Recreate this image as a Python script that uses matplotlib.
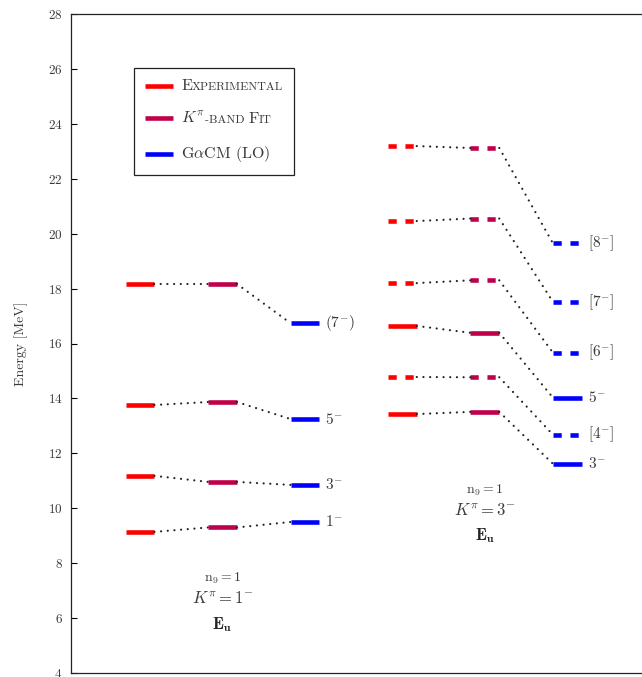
"""Level scheme: experimental vs K^pi-band fit vs GaCM (LO) energies."""

import matplotlib

matplotlib.use("Agg")
import matplotlib.pyplot as plt
from matplotlib.lines import Line2D
from matplotlib.offsetbox import (AnchoredOffsetbox, DrawingArea, HPacker,
                                  TextArea, VPacker)

plt.rcParams["font.family"] = "serif"
plt.rcParams["font.serif"] = ["cmr10", "DejaVu Serif"]
plt.rcParams["mathtext.fontset"] = "cm"
plt.rcParams["axes.formatter.use_mathtext"] = True

# K^pi = 1^- band
left_exp = [9.14, 11.18, 13.76, 18.17]
left_fit = [9.30, 10.96, 13.87, 18.17]
left_lo = [9.50, 10.85, 13.25, 16.74]
left_labels = [r"$1^{-}$", r"$3^{-}$", r"$5^{-}$", r"$(7^{-})$"]
left_tentative = [False, False, False, False]

# K^pi = 3^- band
right_exp = [13.43, 14.78, 16.64, 18.20, 20.46, 23.19]
right_fit = [13.51, 14.77, 16.39, 18.30, 20.55, 23.12]
right_lo = [11.62, 12.68, 14.03, 15.67, 17.52, 19.65]
right_labels = [r"$3^{-}$", r"$[4^{-}]$", r"$5^{-}$", r"$[6^{-}]$",
                r"$[7^{-}]$", r"$[8^{-}]$"]
right_tentative = [False, True, False, True, True, True]

C_EXP = "#ff0000"
C_FIT = "#c0004a"
C_LO = "#0000ff"
TXT = "#3a3a3a"
HW = 0.175  # half width of a level bar

fig = plt.figure(figsize=(6.42, 6.77), dpi=100)
ax = fig.add_axes([71 / 642, 4 / 677, (700 - 71) / 642, (673 - 14) / 677])
ax.set_xlim(-0.836, (700 - 140) / 82.5)
ax.set_ylim(4, 28)


def draw_band(x0, exp, fit, lo, labels, tentative):
    cols = [x0, x0 + 1.0, x0 + 2.0]
    for e, f, l, lab, tent in zip(exp, fit, lo, labels, tentative):
        ls = (0, (1.8, 1.9)) if tent else "-"
        for xc, yv, col in zip(cols, (e, f, l), (C_EXP, C_FIT, C_LO)):
            ax.plot([xc - HW, xc + HW], [yv, yv], color=col, lw=3.3,
                    linestyle=ls, solid_capstyle="butt", dash_capstyle="butt")
        for (xa, ya), (xb, yb) in (((cols[0], e), (cols[1], f)),
                                   ((cols[1], f), (cols[2], l))):
            ax.plot([xa + HW, xb - HW], [ya, yb], color="#222", lw=1.6,
                    linestyle=(0, (0.01, 3.0)), dash_capstyle="round")
        ax.text(cols[2] + HW + 0.07, l, lab, va="center", ha="left",
                fontsize=11, color=TXT)
    return cols[1]


xl = draw_band(0.0, left_exp, left_fit, left_lo, left_labels, left_tentative)
xr = draw_band(3.18, right_exp, right_fit, right_lo, right_labels,
               right_tentative)

for xc, y0, k in ((xl, 7.46, "1"), (xr, 10.67, "3")):
    ax.text(xc, y0, r"$\mathrm{n}_9 = 1$", ha="center", va="center",
            fontsize=10, color=TXT)
    ax.text(xc, y0 - 0.73, rf"$K^{{\pi}} = {k}^{{-}}$", ha="center",
            va="center", fontsize=12, color=TXT)
    ax.text(xc, y0 - 1.68, r"$\mathbf{E}_{\mathbf{u}}$", ha="center",
            va="center", fontsize=12, color="#222")

ax.set_yticks(range(4, 29, 2))
ax.set_xticks([])
ax.tick_params(axis="y", direction="in", length=4, width=0.8,
               labelsize=9.5, labelcolor=TXT, pad=6)
ax.set_ylabel("Energy [MeV]", fontsize=10, color=TXT, labelpad=14)
for sp in ax.spines.values():
    sp.set_linewidth(0.9)
    sp.set_color("#222")

# legend with faked small caps
entries = [
    (C_EXP, [("E", 11.5), ("XPERIMENTAL", 8.6)]),
    (C_FIT, [(r"$K^{\pi}$", 11.5), ("-BAND ", 8.6), ("F", 11.5), ("IT", 8.6)]),
    (C_LO, [(r"G$\alpha$CM (LO)", 11.5)]),
]
rows = []
for color, parts in entries:
    da = DrawingArea(20, 8, 0, 0)
    da.add_artist(Line2D([0, 20], [4, 4], color=color, lw=3.3,
                         solid_capstyle="butt"))
    texts = [TextArea(s, textprops=dict(size=sz, color=TXT)) for s, sz in parts]
    label = HPacker(children=texts, align="baseline", pad=0, sep=0)
    rows.append(HPacker(children=[da, label], align="center", pad=0, sep=6))
box = VPacker(children=rows, align="left", pad=0, sep=13)
leg = AnchoredOffsetbox(loc="upper left", child=box, pad=0.8, borderpad=0,
                        frameon=True,
                        bbox_to_anchor=(134 / 642, 1 - 68 / 677),
                        bbox_transform=fig.transFigure)
leg.patch.set_boxstyle("square", pad=0)
leg.patch.set_edgecolor("#222")
leg.patch.set_linewidth(0.9)
ax.add_artist(leg)

fig.savefig("out.png", dpi=100)
